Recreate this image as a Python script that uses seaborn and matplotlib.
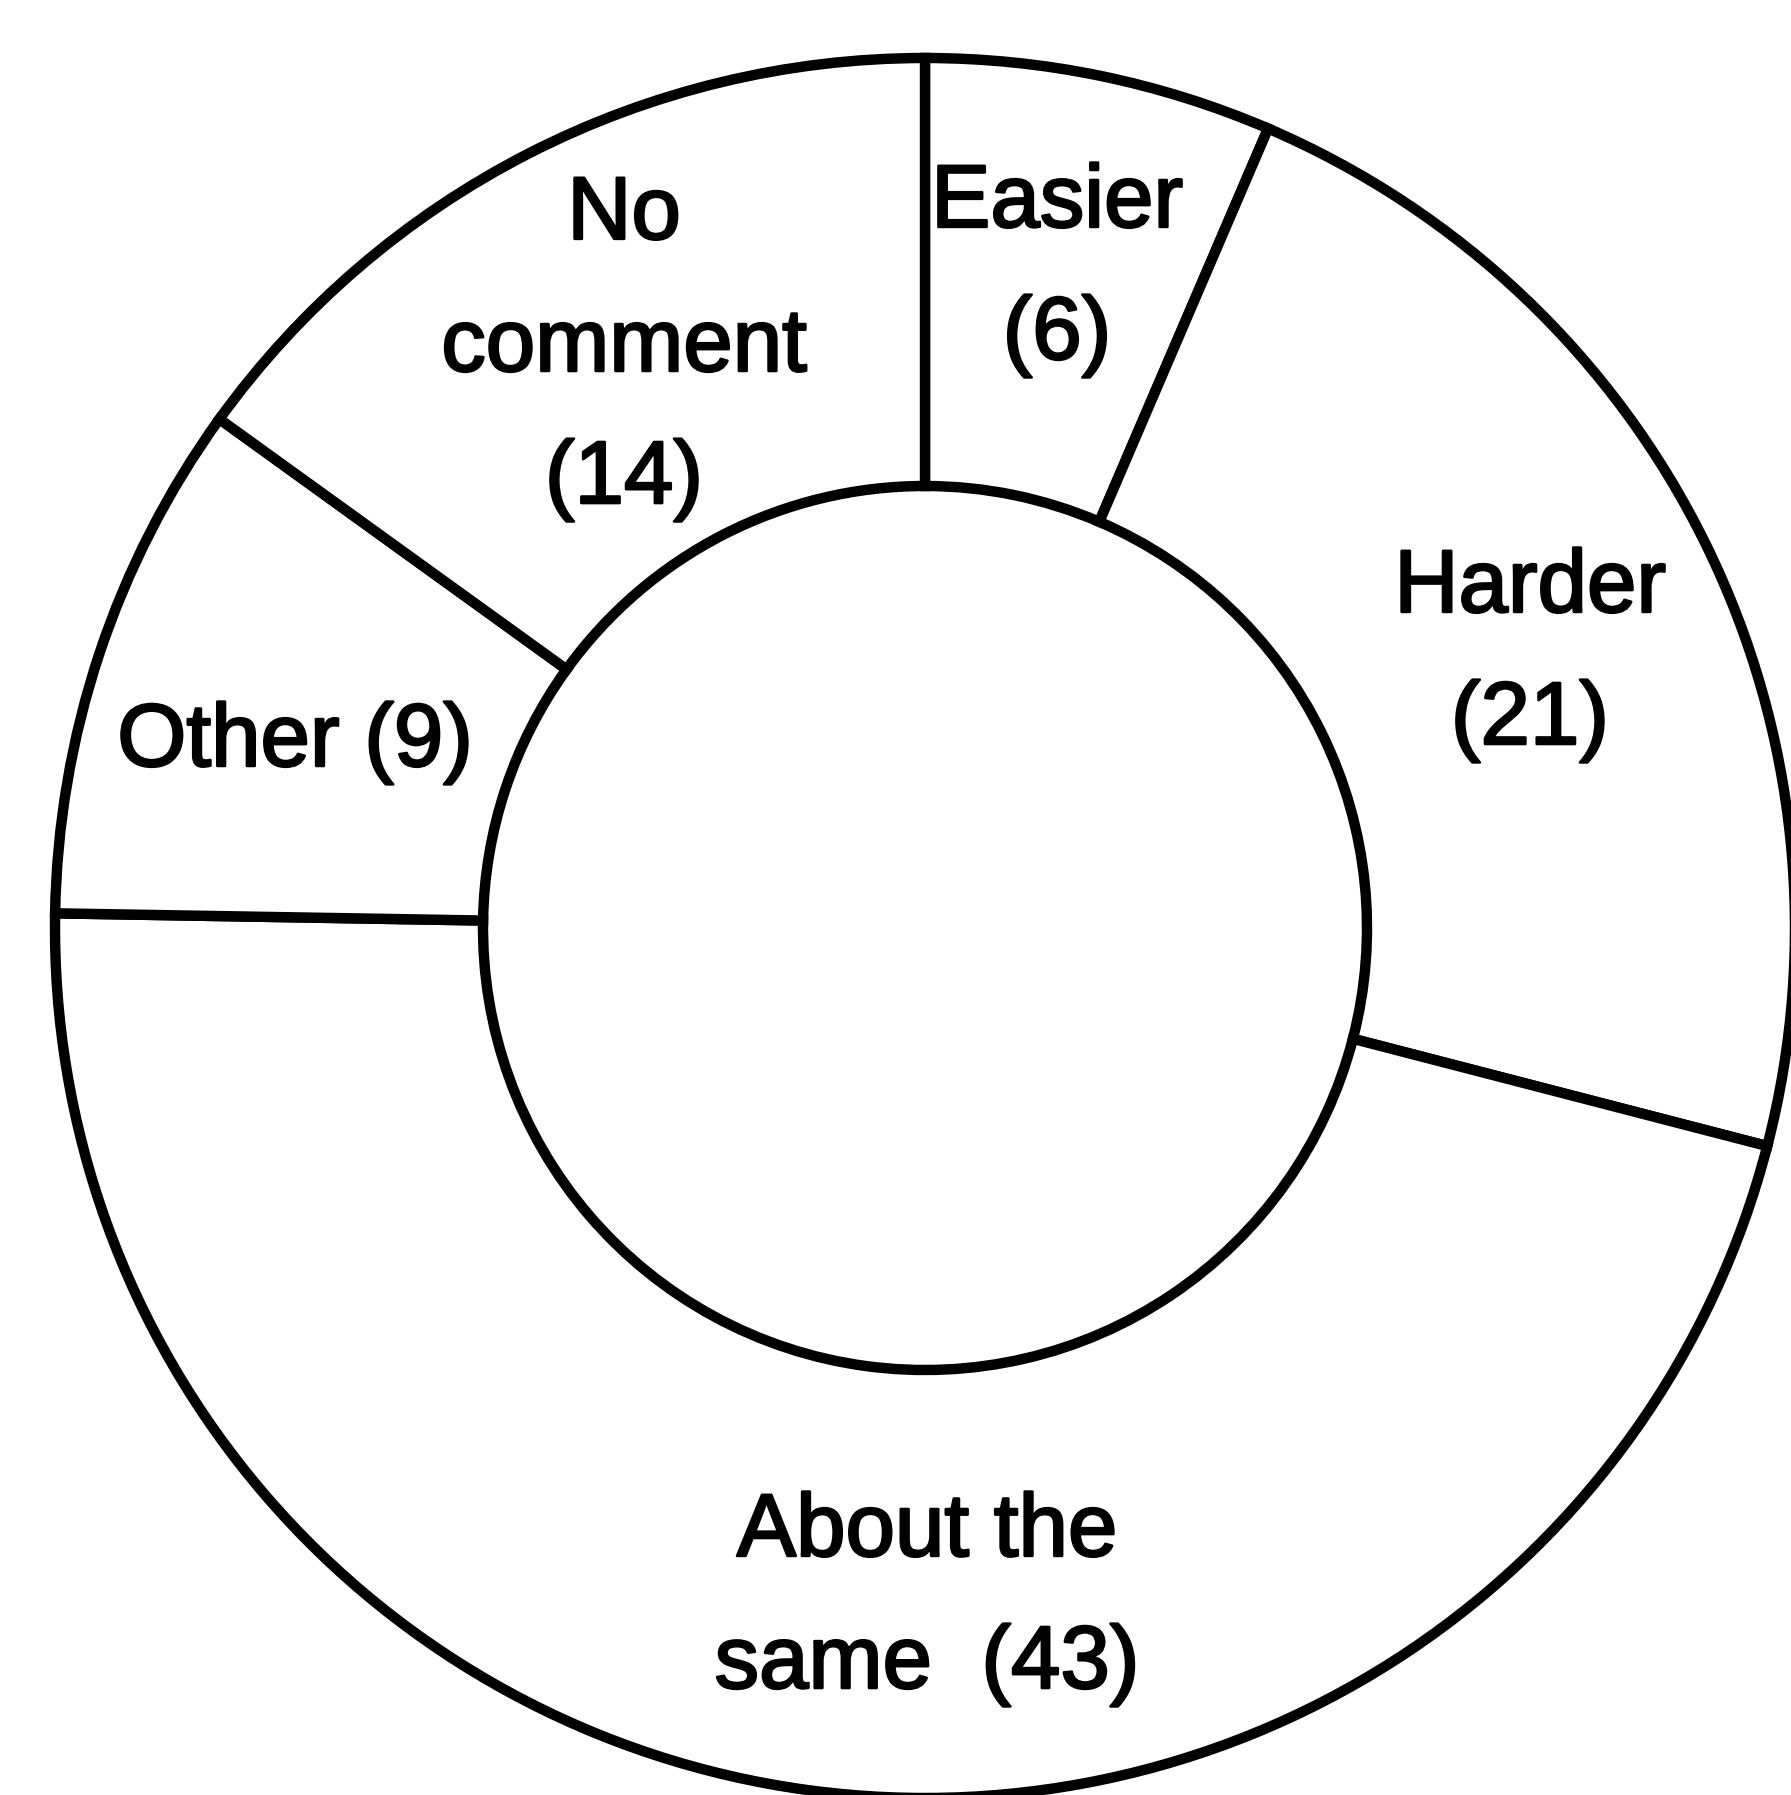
import matplotlib
matplotlib.use("Agg")
import matplotlib.pyplot as plt
import matplotlib.patheffects as pe
import seaborn as sns

sns.set_theme(style="white")
plt.rcParams['font.family'] = ['Liberation Sans', 'DejaVu Sans']

categories = ["Easier", "Harder", "About the same", "Other", "No comment"]
counts = [6, 21, 43, 9, 14]
label_texts = ["Easier\n(6)", "Harder\n(21)", "About the\nsame  (43)", "Other (9)", "No\ncomment\n(14)"]
# label centres in pixel coordinates of the image (x from left, y from top)
label_px = [(1057, 270), (1530, 655), (927, 1599), (295, 743), (624, 348)]

W, H = 1791, 1795
CX, CY = 925, 928
R_OUT, R_IN = 870, 442

fig = plt.figure(figsize=(W / 100, H / 100), dpi=100)
ax = fig.add_axes([0, 0, 1, 1])
ax.pie(counts, startangle=90, counterclock=False, radius=R_OUT,
       colors=["white"] * len(counts),
       wedgeprops=dict(width=R_OUT - R_IN, edgecolor="black", linewidth=7.5, antialiased=True))
for txt, (px, py) in zip(label_texts, label_px):
    ax.text(px - CX, CY - py, txt, ha="center", va="center", fontsize=64,
            linespacing=1.74, color="black",
            path_effects=[pe.withStroke(linewidth=1.8, foreground="black")])
ax.set_xlim(-CX, W - CX)
ax.set_ylim(-(H - CY), CY)
ax.set_aspect("equal")
ax.axis("off")
fig.savefig("out.png", dpi=100, facecolor="white")
